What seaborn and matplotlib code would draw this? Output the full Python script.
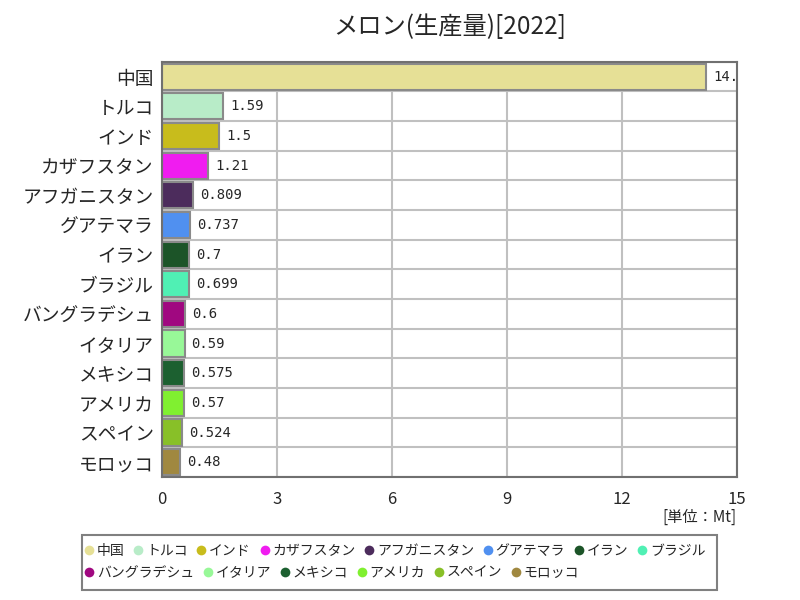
import numpy as np
import matplotlib
matplotlib.use('Agg')
import matplotlib.pyplot as plt
from matplotlib.lines import Line2D
from matplotlib.patches import Rectangle
import seaborn as sns
import pandas as pd

# データ
countries = ['中国', 'トルコ', 'インド', 'カザフスタン', 'アフガニスタン', 'グアテマラ',
             'イラン', 'ブラジル', 'バングラデシュ', 'イタリア', 'メキシコ', 'アメリカ',
             'スペイン', 'モロッコ']
values = [14.2, 1.59, 1.5, 1.21, 0.809, 0.737, 0.7, 0.699, 0.6, 0.59, 0.575, 0.57,
          0.524, 0.48]
labels = ['14.2', '1.59', '1.5', '1.21', '0.809', '0.737', '0.7', '0.699', '0.6',
          '0.59', '0.575', '0.57', '0.524', '0.48']
colors = ['#e6e096', '#b8ecc8', '#c8bc1c', '#f01cf0', '#4c2c5c', '#5090f0',
          '#1c5428', '#50f0b4', '#a00880', '#98f898', '#1c6030', '#80f030',
          '#88c028', '#a08840']

df = pd.DataFrame({'country': countries, 'value': values})
palette = dict(zip(countries, colors))

sns.set_style('white')
plt.rcParams['font.family'] = ['Noto Sans CJK JP', 'DejaVu Sans']

fig = plt.figure(figsize=(8, 6), dpi=100)
ax = fig.add_axes([0.2025, 0.205, 0.7185, 0.692])

sns.barplot(data=df, y='country', x='value', hue='country', palette=palette,
            dodge=False, legend=False, width=0.88, ax=ax, saturation=1)
for p in ax.patches:
    p.set_edgecolor('#8a8a8a')
    p.set_linewidth(1.5)
    p.set_zorder(3)

ax.set_xlim(0, 15)
ax.set_ylim(len(countries) - 0.5, -0.5)
ax.set_xticks(np.arange(0, 16, 3))
ax.set_yticks(np.arange(len(countries) + 1) - 0.5, minor=True)
ax.set_axisbelow(True)
ax.grid(True, axis='x', which='major', color='#c0c0c0', linewidth=1.5)
ax.grid(True, axis='y', which='minor', color='#c0c0c0', linewidth=1.5)
ax.tick_params(axis='y', which='minor', length=0)
ax.tick_params(axis='both', which='major', length=0)
ax.tick_params(axis='x', labelsize=12, pad=10)
ax.tick_params(axis='y', labelsize=13.5, pad=6)
for s in ax.spines.values():
    s.set_color('#707070')
    s.set_linewidth(1.5)
    s.set_zorder(5)
ax.set_xlabel('')
ax.set_ylabel('')

# 値ラベル（白い背景つき）
for i, (v, t) in enumerate(zip(values, labels)):
    ax.annotate(t, xy=(v, i), xytext=(5, 0), textcoords='offset points',
                va='center', ha='left', fontsize=10, family='DejaVu Sans Mono',
                annotation_clip=False, clip_on=True, zorder=4,
                bbox=dict(facecolor='white', edgecolor='none',
                          boxstyle='square,pad=0.3'))

fig.text(0.562, 0.955, 'メロン(生産量)[2022]', ha='center', va='center', fontsize=17.5)
fig.text(0.921, 0.138, '[単位：Mt]', ha='right', va='center', fontsize=11)

# 凡例（2行、枠は手描き）
handles = [Line2D([0], [0], marker='o', linestyle='', markersize=7,
                  markerfacecolor=c, markeredgecolor='none') for c in colors]
rows = [(0, 8, 0.0817), (8, 14, 0.045)]
for a, b, y in rows:
    fig.legend(handles[a:b], countries[a:b], loc='center left',
               bbox_to_anchor=(0.1, y), ncol=b - a, frameon=False,
               fontsize=10, handletextpad=0.1, columnspacing=0.55,
               borderpad=0.2, handlelength=0.9, borderaxespad=0)
fig.add_artist(Rectangle((0.1025, 0.0167), 0.794, 0.0917, transform=fig.transFigure,
                         fill=False, edgecolor='#808080', linewidth=1.5))

plt.savefig('out.png')
plt.close()
